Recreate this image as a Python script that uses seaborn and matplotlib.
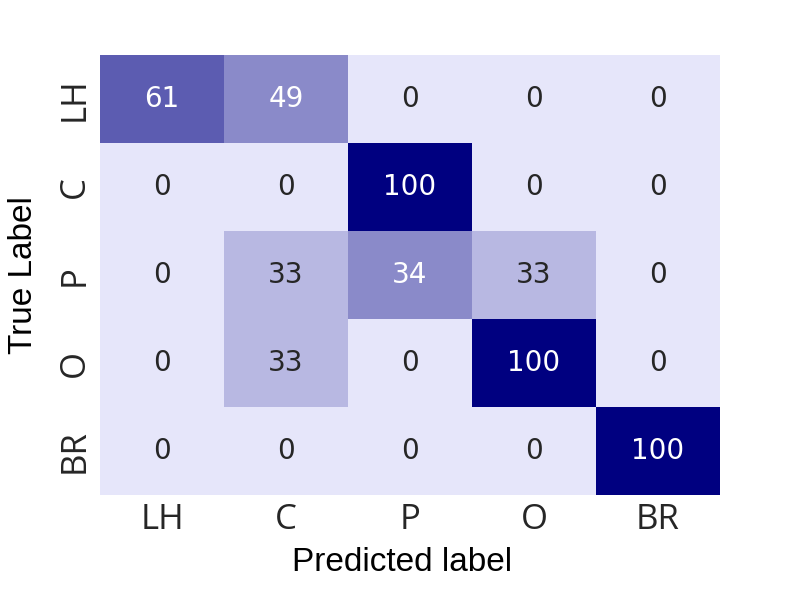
import numpy as np
import pandas as pd
import matplotlib
matplotlib.use("Agg")
import matplotlib.pyplot as plt
import seaborn as sns
from matplotlib.colors import ListedColormap

labels = ["LH", "C", "P", "O", "BR"]
row_lh = [61, 49, 0, 0, 0]
row_c = [0, 0, 100, 0, 0]
row_p = [0, 33, 34, 33, 0]
row_o = [0, 33, 0, 100, 0]
row_br = [0, 0, 0, 0, 100]

cm = pd.DataFrame([row_lh, row_c, row_p, row_o, row_br], index=labels, columns=labels)

sns.set_theme(style="white")

cmap = ListedColormap(sns.blend_palette(["lavender", "navy"], 6))

fig, ax = plt.subplots(figsize=(8, 6), dpi=100)
fig.subplots_adjust(left=0.125, right=0.9, top=0.908, bottom=0.175)
sns.heatmap(cm, annot=True, fmt="d", cmap=cmap, vmin=0, vmax=100, cbar=False,
            annot_kws={"size": 20, "family": "DejaVu Sans"}, ax=ax)

ax.set_xticklabels(labels, fontsize=25, family="Open Sans", color="#262626")
ax.set_yticklabels(labels, fontsize=25, family="Open Sans", color="#262626", rotation=90, va="center")
ax.tick_params(length=0, pad=6)
ax.set_xlabel("Predicted label", fontsize=24, family="Liberation Sans", color="black")
ax.set_ylabel("True Label", fontsize=24, family="Liberation Sans", color="black")
ax.xaxis.set_label_coords(0.487, -0.118)
ax.yaxis.set_label_coords(-0.098, 0.5)

fig.savefig("out.png", dpi=100)
